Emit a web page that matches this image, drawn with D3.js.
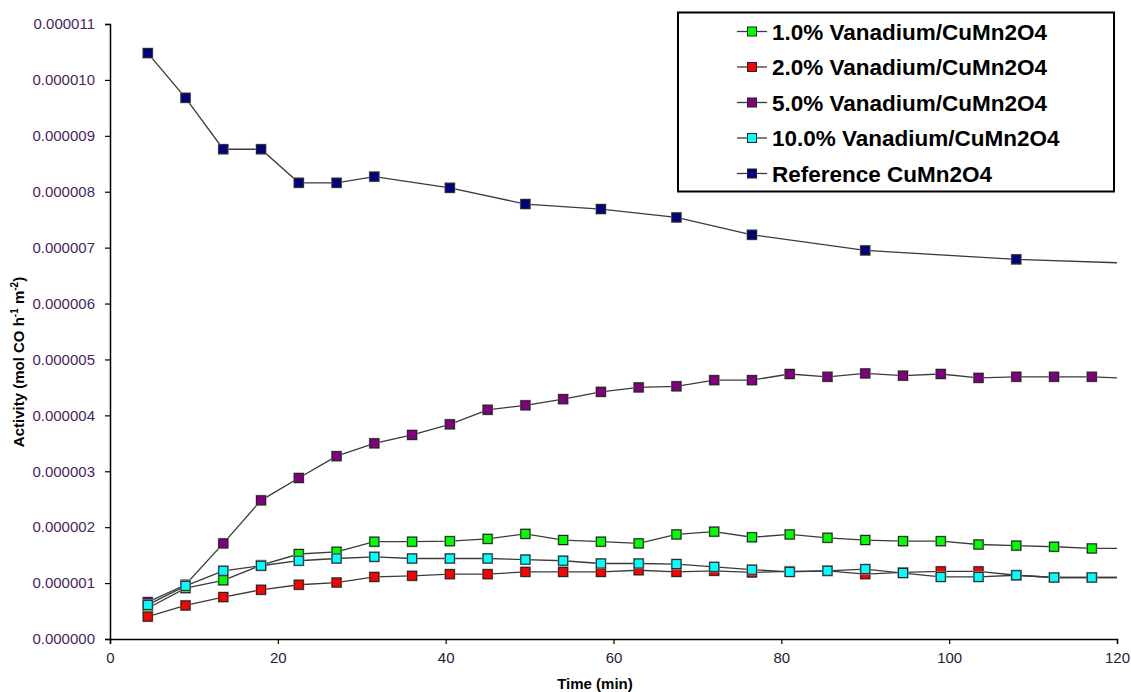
<!DOCTYPE html>
<html>
<head>
<meta charset="utf-8">
<script src="https://cdn.jsdelivr.net/npm/d3@7"></script>
<style>
  body { margin: 0; background: #fff; }
  text { font-family: Arial, "Liberation Sans", sans-serif; }
</style>
</head>
<body>
<div class="graph"></div>
<script>
// time points (min), sampled every 4.5 min; last one sits just past the axis end and gets clipped
var times = [4.5, 9, 13.5, 18, 22.5, 27, 31.5, 36, 40.5, 45, 49.5, 54, 58.5, 63, 67.5, 72, 76.5, 81, 85.5, 90, 94.5, 99, 103.5, 108, 112.5, 117, 121.5];
var refTimes = [4.5, 9, 13.5, 18, 22.5, 27, 31.5, 40.5, 49.5, 58.5, 67.5, 76.5, 90, 108, 126];

// activity values in units of 1e-6 mol CO h-1 m-2
var v1 = [0.55, 0.91, 1.05, 1.32, 1.52, 1.56, 1.74, 1.74, 1.75, 1.79, 1.88, 1.77, 1.74, 1.71, 1.87, 1.92, 1.82, 1.87, 1.81, 1.77, 1.75, 1.75, 1.69, 1.67, 1.65, 1.62, 1.62];
var v2 = [0.40, 0.60, 0.75, 0.88, 0.97, 1.01, 1.11, 1.13, 1.16, 1.16, 1.20, 1.20, 1.20, 1.23, 1.20, 1.22, 1.19, 1.21, 1.22, 1.16, 1.19, 1.21, 1.21, 1.14, 1.10, 1.10, 1.10];
var v5 = [0.66, 0.97, 1.71, 2.48, 2.88, 3.27, 3.50, 3.65, 3.84, 4.10, 4.18, 4.29, 4.42, 4.50, 4.52, 4.63, 4.63, 4.74, 4.69, 4.75, 4.71, 4.74, 4.67, 4.69, 4.69, 4.69, 4.66];
var v10 = [0.61, 0.95, 1.22, 1.31, 1.40, 1.44, 1.47, 1.44, 1.44, 1.44, 1.42, 1.40, 1.35, 1.35, 1.34, 1.29, 1.24, 1.20, 1.22, 1.25, 1.18, 1.11, 1.11, 1.14, 1.10, 1.10, 1.10];
var vRef = [10.48, 9.68, 8.76, 8.76, 8.16, 8.16, 8.27, 8.07, 7.78, 7.69, 7.54, 7.23, 6.95, 6.79, 6.70];

var seriesNames = ["1.0% Vanadium/CuMn2O4", "2.0% Vanadium/CuMn2O4", "5.0% Vanadium/CuMn2O4", "10.0% Vanadium/CuMn2O4", "Reference CuMn2O4"];
var seriesColors = ["#00ff00", "#ff0000", "#800080", "#00ffff", "#000080"];
var xTicks = [0, 20, 40, 60, 80, 100, 120];
var yTicks = [0, 1, 2, 3, 4, 5, 6, 7, 8, 9, 10, 11];

window.onload = () => {
  var width = 1131, height = 692;
  var margin = { left: 110, right: 14, top: 24, bottom: 53 };

  var svg = d3.select(".graph").append("svg")
    .attr("width", width)
    .attr("height", height);

  var x = d3.scaleLinear().domain([0, 120]).range([margin.left, width - margin.right]);
  var y = d3.scaleLinear().domain([0, 11]).range([height - margin.bottom, margin.top]);

  var series = [
    { name: seriesNames[0], color: seriesColors[0], t: times, v: v1 },
    { name: seriesNames[1], color: seriesColors[1], t: times, v: v2 },
    { name: seriesNames[2], color: seriesColors[2], t: times, v: v5 },
    { name: seriesNames[3], color: seriesColors[3], t: times, v: v10 },
    { name: seriesNames[4], color: seriesColors[4], t: refTimes, v: vRef }
  ];
  series.forEach(function (s) {
    s.points = s.t.map(function (t, i) { return { t: t, v: s.v[i] }; });
  });

  svg.append("clipPath").attr("id", "plotclip")
    .append("rect")
    .attr("x", x(0)).attr("y", 0)
    .attr("width", x(120) - x(0)).attr("height", y(0));

  // axes
  var yAxis = svg.append("g")
    .attr("transform", "translate(" + x(0) + ",0)")
    .call(d3.axisLeft(y).tickValues(yTicks).tickSize(5).tickPadding(10)
      .tickFormat(function (d) { return (d / 1e6).toFixed(6); }));
  var xAxis = svg.append("g")
    .attr("transform", "translate(0," + y(0) + ")")
    .call(d3.axisBottom(x).tickValues(xTicks).tickSize(5).tickPadding(8));

  [xAxis, yAxis].forEach(function (a) {
    a.select(".domain").attr("stroke", "#000").attr("stroke-width", 1.5);
    a.selectAll(".tick line").attr("stroke", "#000").attr("stroke-width", 1.2);
    a.selectAll("text").style("font-size", "15px");
  });
  yAxis.selectAll("text").attr("fill", "#4a1f66");
  xAxis.selectAll("text").attr("fill", "#2a1a3a");

  // axis titles
  svg.append("text")
    .attr("x", 595).attr("y", 689)
    .attr("text-anchor", "middle")
    .style("font-size", "15px").style("font-weight", "bold")
    .text("Time (min)");

  var yl = svg.append("text")
    .attr("transform", "translate(24,362) rotate(-90)")
    .attr("text-anchor", "middle")
    .style("font-size", "15px").style("font-weight", "bold");
  yl.append("tspan").text("Activity (mol CO h");
  yl.append("tspan").attr("dy", -6).style("font-size", "10px").text("-1");
  yl.append("tspan").attr("dy", 6).text(" m");
  yl.append("tspan").attr("dy", -6).style("font-size", "10px").text("-2");
  yl.append("tspan").attr("dy", 6).text(")");

  var line = d3.line()
    .x(function (d) { return x(d.t); })
    .y(function (d) { return y(d.v); });

  var plot = svg.append("g").attr("clip-path", "url(#plotclip)");
  var ms = 9;

  series.forEach(function (s) {
    var g = plot.append("g");
    g.append("path")
      .datum(s.points)
      .attr("fill", "none")
      .attr("stroke", "#3a3a3a")
      .attr("stroke-width", 1.3)
      .attr("d", line);
    // soft halo under the markers
    g.selectAll("rect.halo")
      .data(s.points)
      .enter().append("rect")
      .attr("class", "halo")
      .attr("x", function (d) { return x(d.t) - ms / 2 - 1; })
      .attr("y", function (d) { return y(d.v) - ms / 2 - 1; })
      .attr("width", ms + 2).attr("height", ms + 2)
      .attr("fill", "#9a9a9a");
    g.selectAll("rect.mk")
      .data(s.points)
      .enter().append("rect")
      .attr("class", "mk")
      .attr("x", function (d) { return x(d.t) - ms / 2; })
      .attr("y", function (d) { return y(d.v) - ms / 2; })
      .attr("width", ms).attr("height", ms)
      .attr("fill", s.color)
      .attr("stroke", "#222")
      .attr("stroke-width", 1);
  });

  // legend
  var lg = svg.append("g");
  lg.append("rect")
    .attr("x", 678).attr("y", 12.5)
    .attr("width", 436).attr("height", 179)
    .attr("fill", "#fff")
    .attr("stroke", "#000").attr("stroke-width", 2);

  var rows = lg.selectAll("g.row")
    .data(series)
    .enter().append("g")
    .attr("class", "row")
    .attr("transform", function (d, i) { return "translate(0," + (31.5 + i * 35.5) + ")"; });
  rows.append("line")
    .attr("x1", 737).attr("x2", 767)
    .attr("stroke", "#3a3a3a").attr("stroke-width", 1.3);
  rows.append("rect")
    .attr("x", 752 - 4.5).attr("y", -4.5)
    .attr("width", 9).attr("height", 9)
    .attr("fill", function (d) { return d.color; })
    .attr("stroke", "#222");
  rows.append("text")
    .attr("x", 772).attr("y", 0)
    .attr("dy", "0.36em")
    .style("font-size", "22.5px").style("font-weight", "bold")
    .text(function (d) { return d.name; });
};
</script>
</body>
</html>
